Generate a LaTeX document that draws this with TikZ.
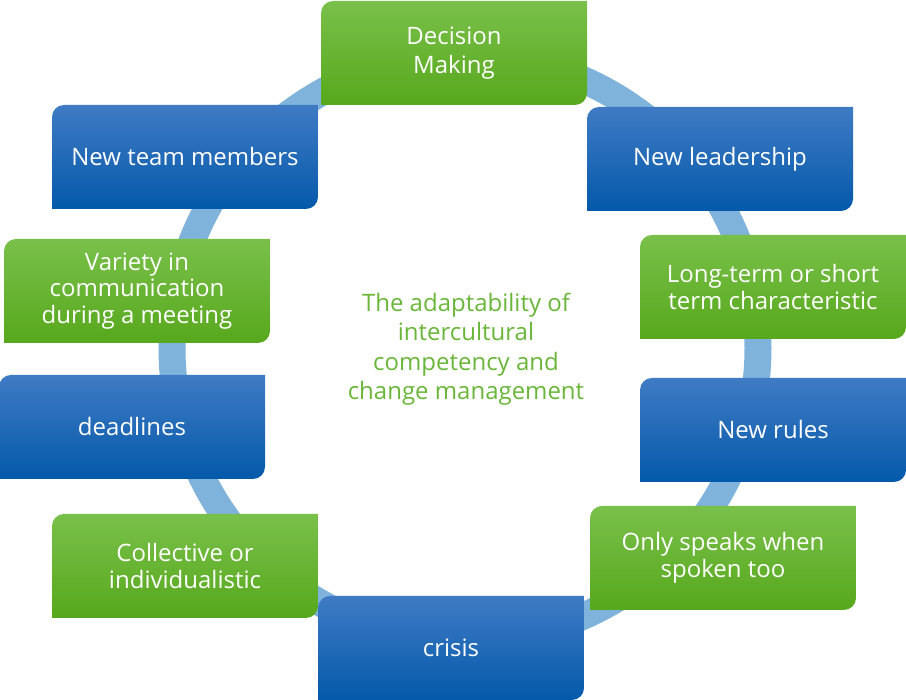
\documentclass[tikz,border=0pt]{standalone}
\usepackage{fontspec}
\setmainfont{Open Sans}
\usepackage{tikz}

\definecolor{ringblue}{HTML}{7FB3DC}
\definecolor{bluetop}{HTML}{3F7BC4}
\definecolor{bluebot}{HTML}{0459AA}
\definecolor{greentop}{HTML}{79C04A}
\definecolor{greenbot}{HTML}{57A81C}
\definecolor{midgreen}{HTML}{6AB63A}

\begin{document}
\begin{tikzpicture}[x=1pt,y=1pt,
    card/.style 2 args={minimum width=266pt, minimum height=104pt, inner sep=0pt,
      align=center, text=white, font=\fontsize{24}{26.5}\selectfont,
      path picture={\shade[top color=#1, bottom color=#2]
        (path picture bounding box.south west)
        -- ([yshift=-12pt]path picture bounding box.north west)
        arc[start angle=180, end angle=90, radius=12pt]
        -- (path picture bounding box.north east)
        -- ([yshift=12pt]path picture bounding box.south east)
        arc[start angle=0, end angle=-90, radius=12pt] -- cycle;}},
    bluecard/.style={card={bluetop}{bluebot}},
    greencard/.style={card={greentop}{greenbot}}]
      \useasboundingbox (0,0) rectangle (906,700);
      % ring behind the cards
      \draw [ringblue, line width=27pt] (465,352) circle (293);
      \node (ctr) [align=center, text=midgreen, font=\fontsize{24}{29.5}\selectfont] at (466,351)
        {The adaptability of\\intercultural\\competency and\\change management};
      \node (decision) [greencard, font=\fontsize{24}{29}\selectfont] at (454,647) {Decision\\Making};
      \node (team) [bluecard] at (185,543) {New team members};
      \node (leader) [bluecard] at (720,541) {New leadership};
      \node (variety) [greencard] at (137,409) {Variety in\\communication\\during a meeting};
      \node (longterm) [greencard] at (773,413) {Long-term or short\\term characteristic};
      \node (deadline) [bluecard] at (132,273) {deadlines};
      \node (rules) [bluecard] at (773,270) {New rules};
      \node (collect) [greencard] at (185,134) {Collective or\\individualistic};
      \node (speaks) [greencard] at (723,142) {Only speaks when\\spoken too};
      \node (crisis) [bluecard] at (451,52) {crisis};
\end{tikzpicture}
\end{document}
